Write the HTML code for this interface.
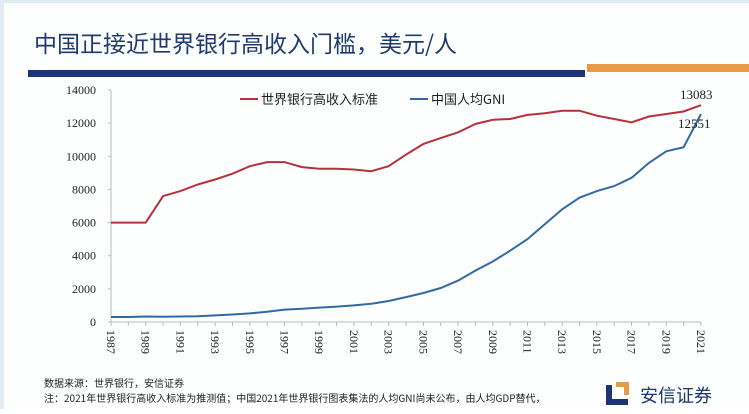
<!DOCTYPE html>
<html><head><meta charset="utf-8"><style>
body{margin:0;width:749px;height:409px;overflow:hidden;background:#fff;font-family:"Liberation Sans","Noto Sans CJK SC",sans-serif;}
</style></head><body>
<svg width="749" height="409" xmlns="http://www.w3.org/2000/svg" id="s">
<rect x="0" y="0" width="749" height="409" fill="#fdfefe"/>
<rect x="0" y="0" width="749" height="3" fill="#dfe9f0"/>
<rect x="0" y="0" width="4" height="409" fill="#e3ecf2"/>
<text x="34" y="52" font-size="23" fill="#1f3a6e" font-family="Noto Sans CJK SC, sans-serif">中国正接近世界银行高收入门槛，美元/人</text>
<rect x="28" y="70" width="557" height="7" fill="#1d3470"/>
<rect x="587" y="64" width="162" height="8" fill="#e79a48"/>
<g font-family="Liberation Serif, serif" font-size="12" fill="#222" text-anchor="end" id="yl"></g>
<line x1="111" y1="90" x2="111" y2="322" stroke="#bbb"/>
<line x1="111" y1="322" x2="701" y2="322" stroke="#bbb"/>
<g id="xl" font-family="Liberation Serif, serif" font-size="12" fill="#222"></g>
<path id="r" fill="none" stroke="#b5323a" stroke-width="2"/>
<path id="b" fill="none" stroke="#2f6aa3" stroke-width="2"/>
<line x1="240" y1="99" x2="258" y2="99" stroke="#b5323a" stroke-width="2"/>
<text x="261" y="104" font-size="13" fill="#222" font-family="Noto Sans CJK SC, sans-serif">世界银行高收入标准</text>
<line x1="410" y1="99" x2="428" y2="99" stroke="#2f6aa3" stroke-width="2"/>
<text x="431" y="104" font-size="13" fill="#222" font-family="Noto Sans CJK SC, sans-serif">中国人均GNI</text>
<text x="680" y="99" font-size="13" fill="#222" font-family="Liberation Serif, serif">13083</text>
<text x="678" y="128" font-size="13" fill="#222" font-family="Liberation Serif, serif">12551</text>
<text x="44" y="387" font-size="10" fill="#222" font-family="Noto Sans CJK SC, sans-serif">数据来源：世界银行，安信证券</text>
<text x="44" y="402" font-size="10" fill="#222" font-family="Noto Sans CJK SC, sans-serif">注：2021年世界银行高收入标准为推测值；中国2021年世界银行图表集法的人均GNI尚未公布，由人均GDP替代，</text>
<path d="M606 385 h6 v14 h16 v6 h-22z" fill="#1d3470"/>
<path d="M616 382 h13 v13 h-5 v-8 h-8z" fill="#e79a48"/>
<text x="640" y="402" font-size="18" fill="#1d3470" font-family="Noto Sans CJK SC, sans-serif">安信证券</text>
</svg>
<script>
var R=[6000,6000,6000,7600,7900,8300,8600,8950,9400,9650,9650,9350,9250,9250,9200,9100,9400,10100,10750,11100,11450,11950,12200,12250,12500,12600,12750,12750,12450,12250,12050,12400,12550,12700,13083];
var B=[300,330,320,330,350,400,450,520,620,750,800,870,930,1000,1100,1270,1500,1750,2050,2500,3100,3650,4300,5000,5900,6800,7500,7900,8200,8700,9600,10300,10550,12551];
B.push(12551);B.splice(33,1);
function X(i){return 111+i*590/34}function Y(v){return 322-v*232/14000}
function p(a){return a.map(function(v,i){return(i?"L":"M")+X(i).toFixed(1)+" "+Y(v).toFixed(1)}).join(" ")}
document.getElementById('r').setAttribute('d',p(R));
B=[300,330,320,330,350,400,450,520,620,750,800,870,930,1000,1100,1270,1500,1750,2050,2500,3100,3650,4300,5000,5900,6800,7500,7900,8200,8700,9600,10300,10550,12551];
while(B.length<35)B.unshift(300);
document.getElementById('b').setAttribute('d',p(B));
var ns="http://www.w3.org/2000/svg",yl=document.getElementById('yl'),xl=document.getElementById('xl'),s=document.getElementById('s');
for(var v=0;v<=14000;v+=2000){var t=document.createElementNS(ns,'text');t.setAttribute('x',96);t.setAttribute('y',Y(v)+4);t.textContent=v;yl.appendChild(t);
var l=document.createElementNS(ns,'line');l.setAttribute('x1',108);l.setAttribute('x2',111);l.setAttribute('y1',Y(v));l.setAttribute('y2',Y(v));l.setAttribute('stroke','#bbb');s.appendChild(l);}
for(var i=0;i<35;i++){var l=document.createElementNS(ns,'line');l.setAttribute('x1',X(i));l.setAttribute('x2',X(i));l.setAttribute('y1',322);l.setAttribute('y2',326);l.setAttribute('stroke','#bbb');s.appendChild(l);
if(i%2==0){var t=document.createElementNS(ns,'text');t.setAttribute('transform','translate('+(X(i)-4)+',330) rotate(90)');t.textContent=1987+i;xl.appendChild(t);}}
</script>
</body></html>
